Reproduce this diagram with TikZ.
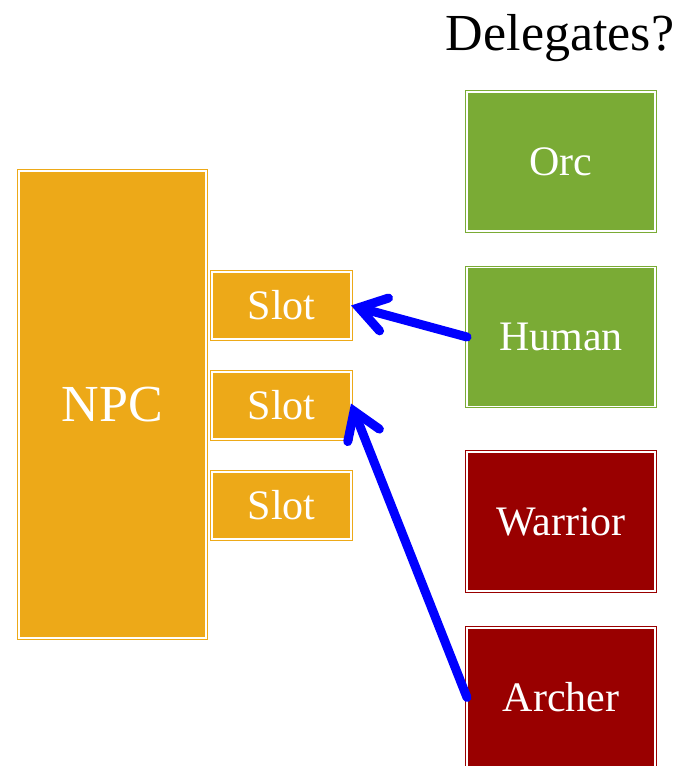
\documentclass[tikz,border=0pt]{standalone}
\usepackage{fontspec}
\setmainfont{Liberation Serif}
\usetikzlibrary{arrows.meta}
\definecolor{npcorange}{RGB}{237,169,24}
\definecolor{racegreen}{RGB}{122,171,53}
\definecolor{classred}{RGB}{153,0,0}
\definecolor{arrowblue}{RGB}{0,0,255}
\tikzset{
  dbox/.style={draw=#1, fill=#1, double=white, double distance=1.6bp, line width=1bp,
    text=white, inner sep=0pt, outer sep=0pt, font=\fontsize{42bp}{46bp}\selectfont},
  npcbox/.style={dbox=npcorange, minimum width=187bp, minimum height=467bp,
    font=\fontsize{52bp}{56bp}\selectfont},
  slotbox/.style={dbox=npcorange, minimum width=139bp, minimum height=67bp},
  racebox/.style={dbox=racegreen, minimum width=188bp, minimum height=139bp},
  classbox/.style={dbox=classred, minimum width=188bp, minimum height=139bp},
  link/.style={draw=arrowblue, line width=9bp, line cap=round,
    -{Straight Barb[line cap=round, line join=miter, length=26bp, width=34bp]}}
}
\begin{document}
\begin{tikzpicture}[x=1bp, y=-1bp]
\useasboundingbox (0,0) rectangle (694,766);
\node[anchor=base, font=\fontsize{52bp}{56bp}\selectfont] (title) at (560,51) {Delegates?};
\node[npcbox] (npc) at (112.5,404.5) {NPC};
\node[slotbox] (slot1) at (281.5,305.5) {Slot};
\node[slotbox] (slot2) at (281.5,405.5) {Slot};
\node[slotbox] (slot3) at (281.5,505.5) {Slot};
\node[racebox] (orc) at (561,161.5) {Orc};
\node[racebox] (human) at (561,337) {Human};
\node[classbox] (warrior) at (561,521.5) {Warrior};
\node[classbox] (archer) at (561,697.5) {Archer};
\draw[link] (human.west) -- (slot1.east);
\draw[link] (archer.west) -- ([yshift=2bp]slot2.east);
\end{tikzpicture}
\end{document}
